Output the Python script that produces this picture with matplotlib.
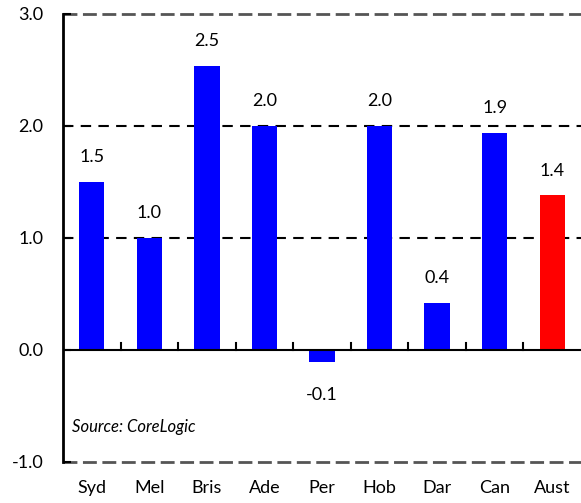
import matplotlib
matplotlib.use("Agg")
import matplotlib.pyplot as plt
import numpy as np

cities = ["Syd", "Mel", "Bris", "Ade", "Per", "Hob", "Dar", "Can", "Aust"]
values = [1.50, 1.00, 2.54, 2.00, -0.11, 2.00, 0.42, 1.94, 1.38]
colours = ["#0000ff"] * 8 + ["#ff0000"]

plt.rcParams['font.family'] = ['Lato', 'DejaVu Sans']
fs = 13

fig = plt.figure(figsize=(5.81, 5.03), dpi=100)
ax = fig.add_axes([63 / 581, 41 / 503, 518 / 581, 448 / 503])

x = np.arange(len(cities))
ax.bar(x, values, width=0.44, color=colours, zorder=3)

# value labels above / below bars
for xi, v in zip(x, values):
    if v >= 0:
        ax.annotate(f"{v:.1f}", (xi, v), xytext=(0, 12), textcoords="offset points",
                    ha="center", va="bottom", fontsize=fs)
    else:
        ax.annotate(f"{v:.1f}", (xi, v), xytext=(0, -18), textcoords="offset points",
                    ha="center", va="top", fontsize=fs)

ax.set_xlim(-0.5, len(cities) - 0.5)
ax.set_ylim(-1.0, 3.0)
ax.set_yticks([-1.0, 0.0, 1.0, 2.0, 3.0])
ax.set_yticklabels([f"{t:.1f}" for t in [-1.0, 0.0, 1.0, 2.0, 3.0]], fontsize=fs)
ax.tick_params(axis="y", direction="in", length=6, width=1.5, pad=14)

# gridlines at 1 and 2
for g in [1.0, 2.0]:
    ax.axhline(g, color="black", lw=1.5, ls=(0, (5, 3.5)), zorder=1)

# top and bottom frame as grey dashed lines
ax.spines["top"].set_visible(False)
ax.spines["bottom"].set_visible(False)
ax.spines["right"].set_visible(False)
ax.spines["left"].set_linewidth(2)
ax.axhline(3.0, color="#555555", lw=2, ls=(0, (5, 2)), zorder=1, clip_on=False)
ax.axhline(-1.0, color="#555555", lw=2, ls=(0, (5, 2)), zorder=1, clip_on=False)

# zero axis with category ticks
ax.axhline(0.0, color="black", lw=1.5, zorder=4)
for b in np.arange(0.5, len(cities) - 1, 1.0):
    ax.plot([b, b], [0, 0.06], color="black", lw=1.5, zorder=4)

ax.set_xticks(x)
ax.set_xticklabels(cities, fontsize=fs)
ax.tick_params(axis="x", length=0, pad=13)

ax.text(0.018, 0.078, "Source: CoreLogic", transform=ax.transAxes,
        fontsize=12, style="italic", ha="left", va="center")

fig.savefig("out.png", dpi=100)
